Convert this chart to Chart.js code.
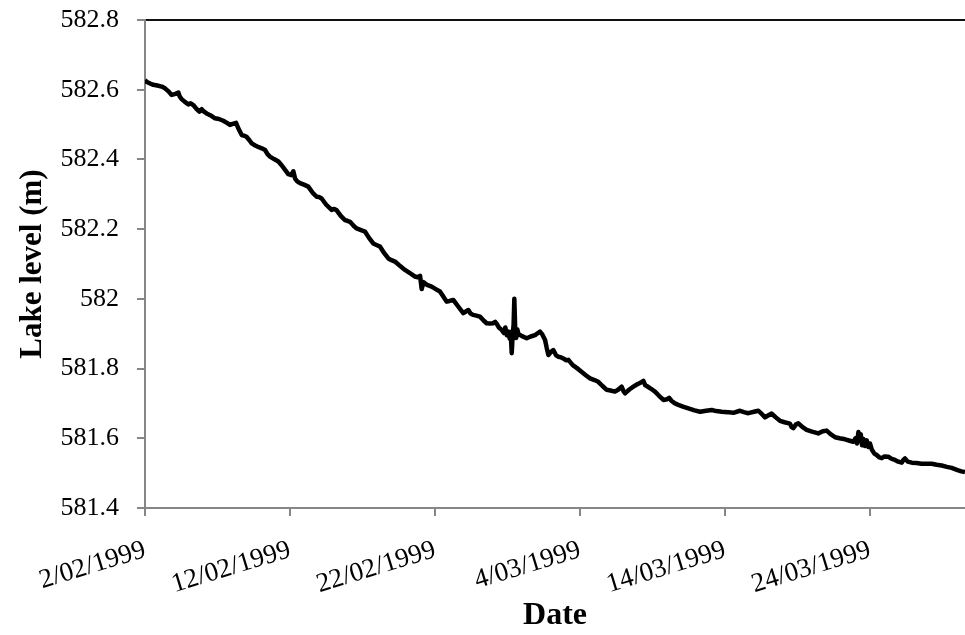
<!DOCTYPE html>
<html>
<head>
<meta charset="utf-8">
<script src="https://cdn.jsdelivr.net/npm/chart.js@4.4.1/dist/chart.umd.min.js"></script>
<style>
    body { margin: 0; background: #fff; }
    #wrap { width: 965px; height: 635px; position: relative; }
</style>
</head>
<body>
<div id="wrap"><canvas id="lake-chart"></canvas></div>
<script>
// days since 2/02/1999 00:00
const dias = [
    0.0, 0.1, 0.35, 0.57, 0.85, 1.15, 1.38, 1.6, 1.84, 2.1, 2.3, 2.4, 2.53, 2.75, 2.99, 3.15, 3.33, 3.55, 3.75, 3.91,
    4.05, 4.25, 4.5, 4.83, 5.1, 5.4, 5.65, 5.86, 6.05, 6.28, 6.45, 6.67, 6.85, 7.0, 7.2, 7.36, 7.6, 7.85, 8.05, 8.28,
    8.45, 8.62, 8.9, 9.2, 9.45, 9.66, 9.88, 10.1, 10.23, 10.35, 10.5, 10.69, 11.0, 11.26, 11.55, 11.84, 12.0, 12.18, 12.5, 12.87,
    13.05, 13.22, 13.5, 13.79, 13.95, 14.14, 14.4, 14.6, 14.9, 15.17, 15.45, 15.74, 16.0, 16.2, 16.5, 16.78, 17.0, 17.24, 17.6, 17.93,
    18.3, 18.62, 18.8, 18.97, 19.08, 19.2, 19.45, 19.77, 20.05, 20.34, 20.55, 20.8, 21.0, 21.26, 21.6, 21.95, 22.1, 22.3, 22.45, 22.64,
    22.85, 23.1, 23.35, 23.56, 23.8, 24.0, 24.15, 24.26, 24.4, 24.6, 24.75, 24.85, 24.95, 25.06, 25.15, 25.22, 25.29, 25.36, 25.42, 25.47,
    25.53, 25.6, 25.68, 25.75, 26.0, 26.32, 26.6, 26.9, 27.1, 27.24, 27.4, 27.59, 27.7, 27.82, 28.0, 28.16, 28.35, 28.5, 28.7, 28.85,
    29.05, 29.2, 29.5, 29.77, 30.1, 30.4, 30.69, 31.0, 31.26, 31.55, 31.84, 32.1, 32.41, 32.65, 32.87, 33.0, 33.1, 33.4, 33.68, 33.95,
    34.2, 34.37, 34.5, 34.6, 34.9, 35.17, 35.45, 35.75, 36.0, 36.15, 36.32, 36.55, 36.78, 37.1, 37.47, 37.9, 38.28, 38.7, 39.08, 39.4,
    39.77, 40.2, 40.57, 41.03, 41.3, 41.61, 42.0, 42.3, 42.55, 42.76, 43.0, 43.22, 43.5, 43.79, 44.1, 44.48, 44.6, 44.71, 44.9, 45.06,
    45.35, 45.63, 46.0, 46.43, 46.75, 47.01, 47.3, 47.59, 47.9, 48.28, 48.6, 48.85, 49.0, 49.1, 49.2, 49.28, 49.36, 49.45, 49.54, 49.65,
    49.77, 49.88, 50.0, 50.12, 50.3, 50.46, 50.65, 50.81, 51.0, 51.26, 51.5, 51.72, 51.95, 52.19, 52.3, 52.41, 52.6, 52.88, 53.2, 53.56,
    53.9, 54.25, 54.6, 54.94, 55.3, 55.63, 55.9, 56.09, 56.3, 56.55
];

// lake level (m)
const niveles = [
    582.628, 582.623, 582.618, 582.614, 582.612, 582.609, 582.604, 582.596, 582.585, 582.588, 582.592, 582.580, 582.573, 582.565, 582.558, 582.561, 582.556, 582.545, 582.537, 582.544,
    582.538, 582.532, 582.527, 582.518, 582.516, 582.511, 582.505, 582.499, 582.502, 582.505, 582.488, 582.470, 582.468, 582.465, 582.455, 582.446, 582.440, 582.435, 582.432, 582.427,
    582.415, 582.408, 582.401, 582.394, 582.382, 582.370, 582.358, 582.355, 582.366, 582.345, 582.337, 582.332, 582.327, 582.322, 582.305, 582.293, 582.292, 582.288, 582.270, 582.255,
    582.258, 582.254, 582.238, 582.226, 582.224, 582.221, 582.209, 582.202, 582.197, 582.193, 582.175, 582.159, 582.154, 582.150, 582.131, 582.116, 582.111, 582.107, 582.094, 582.083,
    582.073, 582.064, 582.062, 582.066, 582.028, 582.048, 582.040, 582.035, 582.028, 582.021, 582.008, 581.992, 581.994, 581.997, 581.978, 581.959, 581.963, 581.968, 581.958, 581.954,
    581.952, 581.949, 581.938, 581.930, 581.929, 581.930, 581.934, 581.928, 581.918, 581.911, 581.902, 581.918, 581.896, 581.906, 581.886, 581.905, 581.844, 581.900, 581.925, 582.000,
    581.915, 581.888, 581.912, 581.899, 581.893, 581.887, 581.892, 581.896, 581.902, 581.906, 581.898, 581.882, 581.860, 581.839, 581.848, 581.853, 581.838, 581.834, 581.832, 581.829,
    581.824, 581.825, 581.810, 581.802, 581.791, 581.781, 581.772, 581.767, 581.762, 581.750, 581.739, 581.737, 581.734, 581.740, 581.748, 581.735, 581.729, 581.740, 581.748, 581.755,
    581.760, 581.765, 581.752, 581.750, 581.742, 581.734, 581.722, 581.710, 581.712, 581.716, 581.707, 581.700, 581.696, 581.691, 581.686, 581.680, 581.676, 581.679, 581.681, 581.678,
    581.676, 581.675, 581.673, 581.679, 581.675, 581.672, 581.676, 581.679, 581.669, 581.660, 581.666, 581.671, 581.660, 581.650, 581.646, 581.642, 581.632, 581.629, 581.640, 581.643,
    581.632, 581.624, 581.619, 581.614, 581.620, 581.622, 581.611, 581.603, 581.600, 581.597, 581.593, 581.590, 581.600, 581.585, 581.618, 581.592, 581.612, 581.580, 581.598, 581.578,
    581.594, 581.575, 581.585, 581.568, 581.556, 581.552, 581.545, 581.543, 581.548, 581.547, 581.541, 581.538, 581.533, 581.530, 581.538, 581.542, 581.533, 581.530, 581.529, 581.527,
    581.527, 581.527, 581.524, 581.522, 581.518, 581.515, 581.511, 581.508, 581.505, 581.503
];

const etiquetasFecha = ["2/02/1999", "12/02/1999", "22/02/1999", "4/03/1999", "14/03/1999", "24/03/1999"];
const etiquetasNivel = ["581.4", "581.6", "581.8", "582", "582.2", "582.4", "582.6", "582.8"];

const gris = "#868686";
const fuente = "'Liberation Serif', 'Times New Roman', serif";

const puntos = dias.map((d, i) => ({ x: d, y: niveles[i] }));

new Chart(document.getElementById("lake-chart"), {
    type: "line",
    data: {
        datasets: [{
            data: puntos,
            borderColor: "#000",
            borderWidth: 4.5,
            borderJoinStyle: "round",
            pointRadius: 0,
            tension: 0,
            fill: false
        }]
    },
    options: {
        responsive: true,
        maintainAspectRatio: false,
        animation: false,
        layout: { padding: { top: 20, right: 0, left: 0, bottom: 0 } },
        plugins: {
            legend: { display: false },
            tooltip: { enabled: false }
        },
        scales: {
            x: {
                type: "linear",
                min: 0,
                max: 56.55,
                afterFit: (scale) => { scale.height = 127; },
                border: { color: gris, width: 2 },
                grid: { drawOnChartArea: false, tickLength: 8, color: gris, lineWidth: 2 },
                ticks: {
                    stepSize: 10,
                    includeBounds: false,
                    minRotation: 17,
                    maxRotation: 17,
                    padding: 18,
                    color: "#000",
                    font: { family: fuente, size: 27 },
                    callback: (v) => etiquetasFecha[Math.round(v / 10)]
                },
                title: {
                    display: true,
                    text: "Date",
                    color: "#000",
                    font: { family: fuente, size: 32, weight: "bold" },
                    padding: { top: 0, bottom: 0 }
                }
            },
            y: {
                min: 581.4,
                max: 582.8,
                afterFit: (scale) => {
                    scale.width = 145;
                    scale.paddingTop = 0;
                    scale.paddingBottom = 0;
                },
                border: { color: gris, width: 2 },
                grid: {
                    tickLength: 8,
                    lineWidth: 2,
                    color: (ctx) => (ctx.tick && Math.abs(ctx.tick.value - 582.8) < 1e-6) ? "#111" : "rgba(0,0,0,0)",
                    tickColor: gris
                },
                ticks: {
                    stepSize: 0.2,
                    padding: 18,
                    color: "#000",
                    font: { family: fuente, size: 26 },
                    callback: (v) => etiquetasNivel[Math.round((v - 581.4) / 0.2)]
                },
                title: {
                    display: true,
                    text: "Lake level (m)",
                    color: "#000",
                    font: { family: fuente, size: 31, weight: "bold" },
                    padding: { top: 14, bottom: 0 }
                }
            }
        }
    }
});
</script>
</body>
</html>
